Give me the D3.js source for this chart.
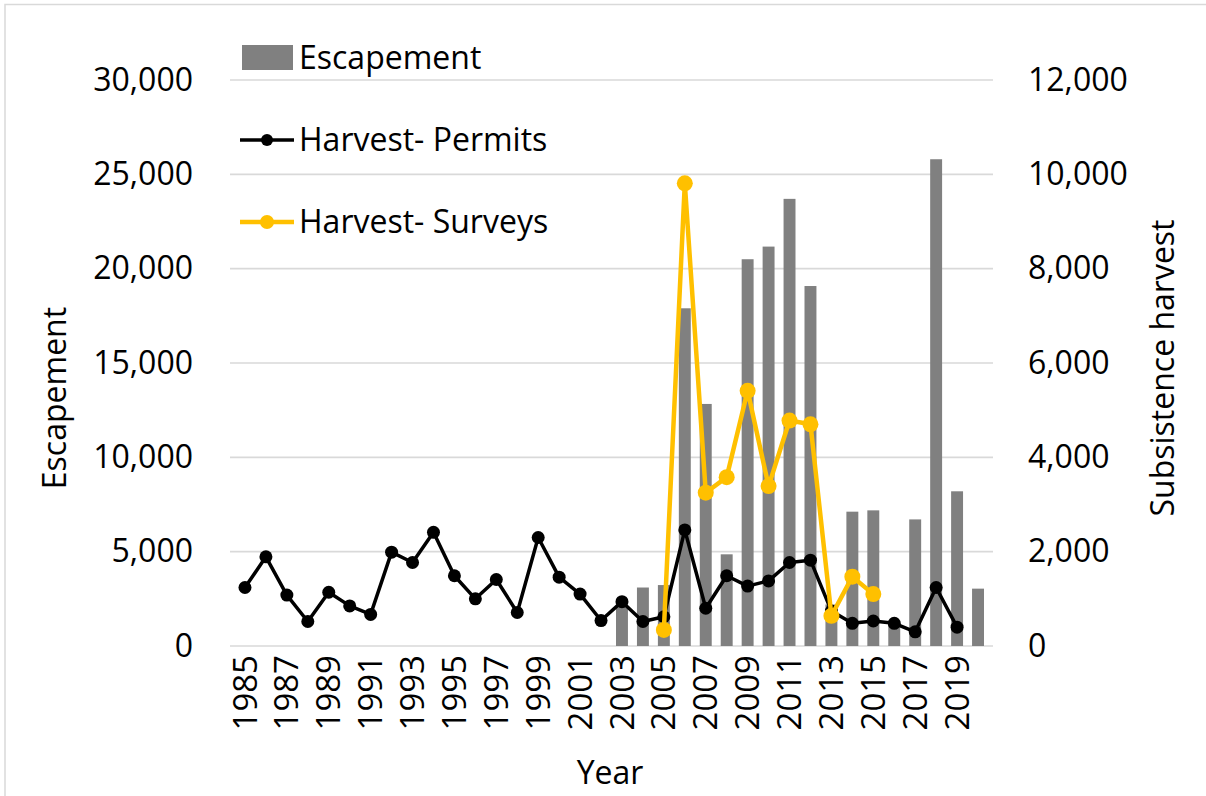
<!DOCTYPE html>
<html><head><meta charset="utf-8">
<script src="https://cdn.jsdelivr.net/npm/d3@7"></script>
<style>body{margin:0;background:#fff}svg{display:block}text{font-family:"Open Sans",sans-serif;fill:#000}</style>
</head><body><svg id="c" width="1206" height="796"></svg>
<script>
const years = d3.range(1985, 2021).map(String);
const escapement = [null,null,null,null,null,null,null,null,null,null,null,null,null,null,null,null,null,null,
  2100,3100,3230,17900,12830,4860,20500,21170,23700,19080,2200,7120,7190,1200,6710,25800,8200,3040];
const permits = [1240,1890,1080,520,1140,850,670,1990,1770,2410,1490,1000,1410,710,2300,1460,1100,540,
  940,520,620,2460,800,1490,1270,1380,1770,1820,740,480,530,480,300,1240,400,null];
const surveys = [null,null,null,null,null,null,null,null,null,null,null,null,null,null,null,null,null,null,
  null,null,340,9810,3250,3580,5410,3390,4780,4700,640,1470,1100,null,null,null,null,null];
const leftTicks = [0,5000,10000,15000,20000,25000,30000];
const rightTicks = [0,2000,4000,6000,8000,10000,12000];
const xLabelYears = years.filter((d,i)=>i%2===0);

const svg = d3.select("#c");
const L=230, R=993, T=80, B=646;
const x = d3.scaleBand().domain(years).range([L,R]).padding(0.43);
const yL = d3.scaleLinear().domain([0,30000]).range([B,T]);
const yR = d3.scaleLinear().domain([0,12000]).range([B,T]);
const fmt = d3.format(",");
const cx = d => x(d)+x.bandwidth()/2;

// border (top & left)
svg.append("path").attr("d","M5,800V4.5H1210").attr("fill","none").attr("stroke","#d9d9d9").attr("stroke-width",1.5);

// gridlines
svg.append("g").selectAll("line").data(leftTicks).join("line")
  .attr("x1",L).attr("x2",R).attr("y1",d=>yL(d)).attr("y2",d=>yL(d))
  .attr("stroke","#d9d9d9").attr("stroke-width",1.6);

// left axis labels
const gl = svg.append("g").attr("transform",`translate(${L-37},0)`)
  .call(d3.axisLeft(yL).tickValues(leftTicks).tickFormat(fmt).tickSize(0).tickPadding(0));
gl.select(".domain").remove();
gl.selectAll("text").attr("font-size",32).attr("font-family","'Open Sans',sans-serif").attr("fill","#000");

// right axis labels
const gr = svg.append("g").attr("transform",`translate(${R+35},0)`)
  .call(d3.axisRight(yR).tickValues(rightTicks).tickFormat(fmt).tickSize(0).tickPadding(0));
gr.select(".domain").remove();
gr.selectAll("text").attr("font-size",32).attr("font-family","'Open Sans',sans-serif").attr("fill","#000");

// bars
svg.append("g").selectAll("rect").data(years.map((y,i)=>({y,v:escapement[i]})).filter(d=>d.v!=null)).join("rect")
  .attr("x",d=>x(d.y)).attr("width",x.bandwidth()).attr("y",d=>yL(d.v)).attr("height",d=>B-yL(d.v))
  .attr("fill","#808080");

// lines
function series(vals, color, lw, r){
  const pts = years.map((y,i)=>({y,v:vals[i]})).filter(d=>d.v!=null);
  svg.append("path").datum(pts)
    .attr("d", d3.line().x(d=>cx(d.y)).y(d=>yR(d.v)))
    .attr("fill","none").attr("stroke",color).attr("stroke-width",lw).attr("stroke-linejoin","round");
  svg.append("g").selectAll("circle").data(pts).join("circle")
    .attr("cx",d=>cx(d.y)).attr("cy",d=>yR(d.v)).attr("r",r).attr("fill",color);
}
series(permits,"#000",3.5,6.5);
series(surveys,"#FFC000",4.5,8);

// x labels
const gx = svg.append("g").attr("transform",`translate(0,${B})`)
  .call(d3.axisBottom(x).tickValues(xLabelYears).tickSize(0).tickPadding(0));
gx.select(".domain").remove();
gx.selectAll("text").attr("font-size",33).attr("font-family","'Open Sans',sans-serif").attr("fill","#000")
  .attr("text-anchor","end").attr("transform","translate(0,9) rotate(-90)").attr("x",0).attr("y",0).attr("dy","0.35em");

// axis titles
svg.append("text").attr("x",610).attr("y",784).attr("text-anchor","middle").attr("font-size",32).text("Year");
svg.append("text").attr("transform","translate(55,398) rotate(-90)").attr("text-anchor","middle").attr("dy","0.35em").attr("font-size",32).text("Escapement");
svg.append("text").attr("transform","translate(1163,368) rotate(-90)").attr("text-anchor","middle").attr("dy","0.35em").attr("font-size",32).text("Subsistence harvest");

// legend
const lg = svg.append("g");
lg.append("rect").attr("x",242).attr("y",45).attr("width",51).attr("height",25).attr("fill","#808080");
lg.append("text").attr("x",299).attr("y",58).attr("dy","0.35em").attr("font-size",32).text("Escapement");
[[140,"#000",3.5,6,"Harvest- Permits"],[222,"#FFC000",4.5,7,"Harvest- Surveys"]].forEach(([yy,c,lw,r,t])=>{
  lg.append("line").attr("x1",240).attr("x2",294).attr("y1",yy).attr("y2",yy).attr("stroke",c).attr("stroke-width",lw);
  lg.append("circle").attr("cx",267).attr("cy",yy).attr("r",r).attr("fill",c);
  lg.append("text").attr("x",299).attr("y",yy).attr("dy","0.35em").attr("font-size",32).text(t);
});
</script></body></html>
